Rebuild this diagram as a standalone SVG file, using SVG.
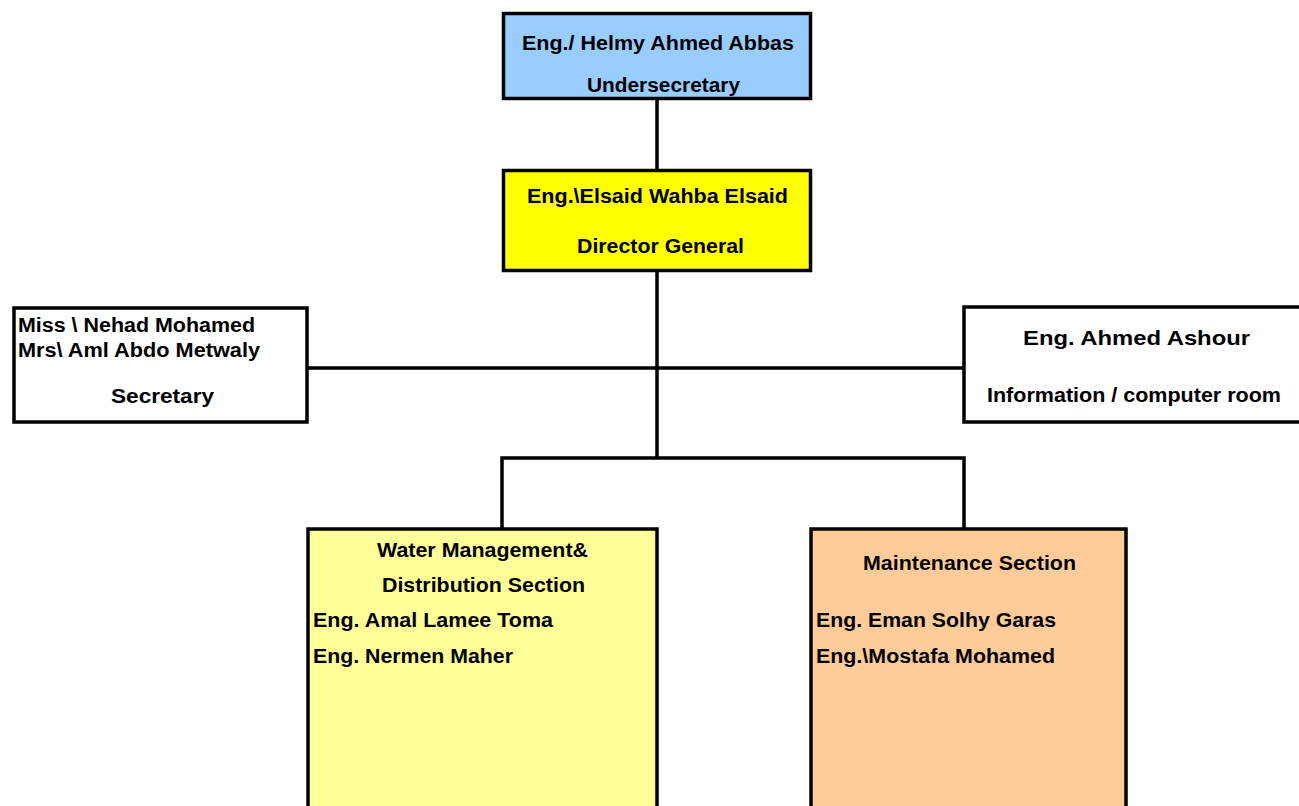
<svg xmlns="http://www.w3.org/2000/svg" width="1299" height="806" viewBox="0 0 1299 806">
<style>
.box{stroke:#000;stroke-width:3.5}
.c{stroke:#000;stroke-width:3.5;fill:none}
text{font-family:"Liberation Sans",Arial,sans-serif;font-weight:bold;fill:#000}
.s{font-size:19.5px}
.l{font-size:21px}
</style>
<rect width="1299" height="806" fill="#fff"/>
<g id="connectors">
<line class="c" x1="657" y1="99" x2="657" y2="170"/>
<line class="c" x1="657" y1="271" x2="657" y2="458"/>
<line class="c" x1="307" y1="368" x2="963" y2="368"/>
<polyline class="c" points="502,528 502,458 964,458 964,528"/>
</g>
<g id="undersecretary">
<rect class="box" x="503.5" y="13.5" width="307" height="85" fill="#99ccff"/>
<text class="s" x="522" y="50" textLength="272" lengthAdjust="spacingAndGlyphs">Eng./ Helmy Ahmed Abbas</text>
<text class="s" x="587" y="92" textLength="153" lengthAdjust="spacingAndGlyphs">Undersecretary</text>
</g>
<g id="director">
<rect class="box" x="503.5" y="170.5" width="307" height="100" fill="#ffff00"/>
<text class="s" x="527" y="203" textLength="261" lengthAdjust="spacingAndGlyphs">Eng.\Elsaid Wahba Elsaid</text>
<text class="s" x="577" y="253" textLength="167" lengthAdjust="spacingAndGlyphs">Director General</text>
</g>
<g id="secretary">
<rect class="box" x="14" y="308" width="293" height="114" fill="#fff"/>
<text class="s" x="18" y="332" textLength="237" lengthAdjust="spacingAndGlyphs">Miss \ Nehad Mohamed</text>
<text class="s" x="18" y="357" textLength="242" lengthAdjust="spacingAndGlyphs">Mrs\ Aml Abdo Metwaly</text>
<text class="l" x="111" y="403" textLength="103" lengthAdjust="spacingAndGlyphs">Secretary</text>
</g>
<g id="information">
<rect class="box" x="964" y="307" width="345" height="115" fill="#fff"/>
<text class="l" x="1023" y="345" textLength="227" lengthAdjust="spacingAndGlyphs">Eng. Ahmed Ashour</text>
<text class="s" x="987" y="402" textLength="294" lengthAdjust="spacingAndGlyphs">Information / computer room</text>
</g>
<g id="water">
<rect class="box" x="308" y="529" width="349" height="290" fill="#ffff99"/>
<text class="s" x="377" y="557" textLength="211" lengthAdjust="spacingAndGlyphs">Water Management&amp;</text>
<text class="s" x="382" y="592" textLength="203" lengthAdjust="spacingAndGlyphs">Distribution Section</text>
<text class="s" x="313" y="627" textLength="240" lengthAdjust="spacingAndGlyphs">Eng. Amal Lamee Toma</text>
<text class="s" x="313" y="663" textLength="200" lengthAdjust="spacingAndGlyphs">Eng. Nermen Maher</text>
</g>
<g id="maintenance">
<rect class="box" x="811" y="529" width="315" height="290" fill="#ffcc99"/>
<text class="s" x="863" y="570" textLength="213" lengthAdjust="spacingAndGlyphs">Maintenance Section</text>
<text class="s" x="816" y="627" textLength="240" lengthAdjust="spacingAndGlyphs">Eng. Eman Solhy Garas</text>
<text class="s" x="816" y="663" textLength="239" lengthAdjust="spacingAndGlyphs">Eng.\Mostafa Mohamed</text>
</g>
</svg>
